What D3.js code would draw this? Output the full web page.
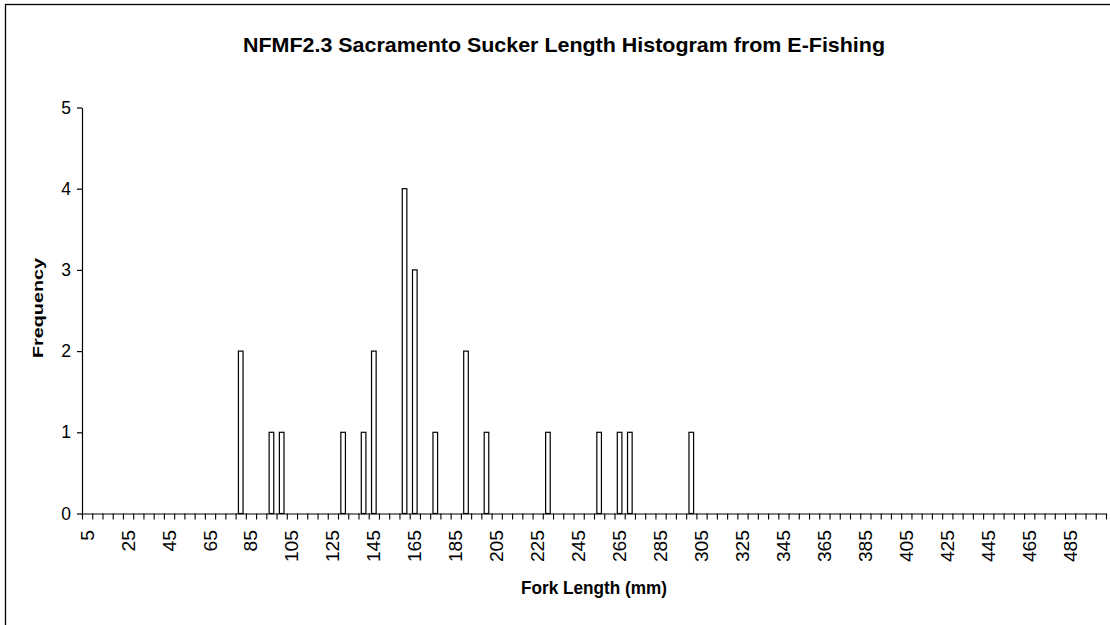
<!DOCTYPE html>
<html>
<head>
<meta charset="utf-8">
<script src="https://cdn.jsdelivr.net/npm/d3@7"></script>
<style>
  html, body { margin: 0; padding: 0; background: #fff; }
  svg { display: block; font-family: "Liberation Sans", Arial, sans-serif; }
</style>
</head>
<body>
<svg id="chart" width="1110" height="625"></svg>
<script>
// Fork-length bins (mm), lower edges in 5 mm steps
const categories = [
  5, 10, 15, 20, 25, 30, 35, 40, 45, 50, 55, 60, 65, 70, 75, 80, 85, 90, 95, 100,
  105, 110, 115, 120, 125, 130, 135, 140, 145, 150, 155, 160, 165, 170, 175, 180, 185, 190, 195, 200,
  205, 210, 215, 220, 225, 230, 235, 240, 245, 250, 255, 260, 265, 270, 275, 280, 285, 290, 295, 300,
  305, 310, 315, 320, 325, 330, 335, 340, 345, 350, 355, 360, 365, 370, 375, 380, 385, 390, 395, 400,
  405, 410, 415, 420, 425, 430, 435, 440, 445, 450, 455, 460, 465, 470, 475, 480, 485, 490, 495, 500
];

// Bins that caught fish, and how many fish fell in each
const binLengths = [80, 95, 100, 130, 140, 145, 160, 165, 175, 190, 200, 230, 255, 265, 270, 300];
const binCounts  = [ 2,  1,   1,   1,   1,   2,   4,   3,   1,   2,   1,   1,   1,   1,   1,   1];

// Every fourth bin gets a label
const xTickLabels = ["5", "25", "45", "65", "85", "105", "125", "145", "165", "185", "205", "225",
  "245", "265", "285", "305", "325", "345", "365", "385", "405", "425", "445", "465", "485"];
const yTicks = [0, 1, 2, 3, 4, 5];

const titleText = "NFMF2.3 Sacramento Sucker Length Histogram from E-Fishing";
const xTitle = "Fork Length (mm)";
const yTitle = "Frequency";

const svg = d3.select("#chart");

// Outer chart frame (only its top and left edges fall inside the view)
svg.append("rect")
  .attr("x", 5.5).attr("y", 4.5)
  .attr("width", 1300).attr("height", 1000)
  .attr("fill", "#fff").attr("stroke", "#000").attr("stroke-width", 1.3);

const plot = { left: 82, right: 1106, top: 107.5, bottom: 513.5 };

const x = d3.scaleBand().domain(categories).range([plot.left, plot.right]).padding(0);
const xEdge = d3.scaleLinear().domain([0, categories.length]).range([plot.left, plot.right]);
const y = d3.scaleLinear().domain([0, 5]).range([plot.bottom, plot.top]);

// Bars
const barW = x.bandwidth() * 0.45;
const bars = binLengths.map((len, i) => ({ len, count: binCounts[i] }));
svg.append("g").selectAll("rect")
  .data(bars)
  .join("rect")
  .attr("x", d => x(d.len) + (x.bandwidth() - barW) / 2)
  .attr("y", d => y(d.count))
  .attr("width", barW)
  .attr("height", d => y(0) - y(d.count))
  .attr("fill", "#fff")
  .attr("stroke", "#000")
  .attr("stroke-width", 1.2);

// Y axis
const yAxis = svg.append("g")
  .attr("transform", `translate(${plot.left},0)`)
  .call(d3.axisLeft(y).tickValues(yTicks).tickFormat(d3.format("d")).tickSize(5).tickSizeOuter(0).tickPadding(6));
yAxis.select(".domain").attr("stroke", "#000").attr("stroke-width", 1.2);
yAxis.selectAll(".tick line").attr("stroke", "#000").attr("stroke-width", 1.2);
yAxis.selectAll(".tick text")
  .attr("font-size", 17.5).attr("fill", "#000")
  .attr("font-family", "'Liberation Sans', Arial, sans-serif");

// X axis: tick marks sit on bin boundaries
const xAxis = svg.append("g")
  .attr("transform", `translate(0,${plot.bottom})`)
  .call(d3.axisBottom(xEdge).tickValues(d3.range(0, categories.length + 1)).tickFormat("").tickSize(6).tickSizeOuter(0));
xAxis.select(".domain").attr("stroke", "#000").attr("stroke-width", 1.2);
xAxis.selectAll(".tick line").attr("stroke", "#000").attr("stroke-width", 1.1);

// X labels, rotated, centred on their bins
svg.append("g").selectAll("text")
  .data(xTickLabels)
  .join("text")
  .attr("transform", d => `translate(${x(+d) + x.bandwidth() / 2 + 6.5},530) rotate(-90)`)
  .attr("text-anchor", "end")
  .attr("font-size", 17.5)
  .attr("fill", "#000")
  .attr("textLength", d => d.length * 10.7)
  .attr("lengthAdjust", "spacingAndGlyphs")
  .text(d => d);

// Title
svg.append("text")
  .attr("x", 564).attr("y", 52)
  .attr("text-anchor", "middle")
  .attr("font-size", 21).attr("font-weight", "bold")
  .attr("textLength", 642).attr("lengthAdjust", "spacingAndGlyphs")
  .text(titleText);

// Axis titles
svg.append("text")
  .attr("x", (plot.left + plot.right) / 2).attr("y", 594)
  .attr("text-anchor", "middle")
  .attr("font-size", 18).attr("font-weight", "bold")
  .attr("textLength", 146).attr("lengthAdjust", "spacingAndGlyphs")
  .text(xTitle);

svg.append("text")
  .attr("transform", "translate(43,308) rotate(-90)")
  .attr("text-anchor", "middle")
  .attr("font-size", 15.5).attr("font-weight", "bold")
  .attr("textLength", 100).attr("lengthAdjust", "spacingAndGlyphs")
  .text(yTitle);
</script>
</body>
</html>
